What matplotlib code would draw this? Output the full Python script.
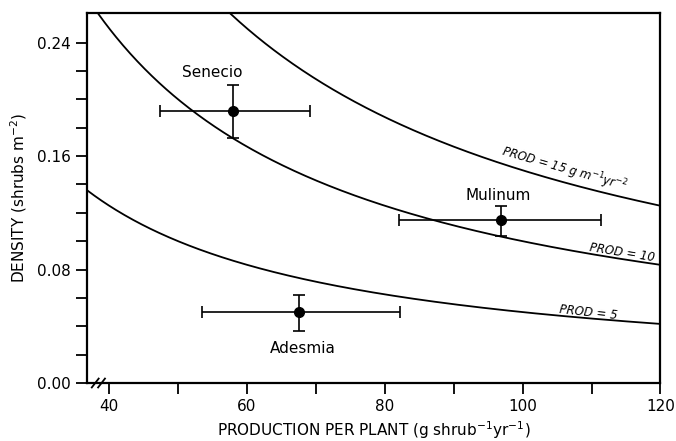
import numpy as np
import matplotlib.pyplot as plt

# datos
especies = ['Senecio', 'Mulinum', 'Adesmia']
produccion = [58.0, 96.8, 67.6]
prod_izq = [47.4, 82.0, 53.5]
prod_der = [69.1, 111.3, 82.2]
densidad = [0.192, 0.115, 0.050]
dens_inf = [0.173, 0.104, 0.037]
dens_sup = [0.210, 0.125, 0.062]

# isolíneas de producción total (PROD = densidad * producción por planta)
niveles_prod = [5, 10, 15]
etiquetas_prod = ['PROD = 5', 'PROD = 10', 'PROD = 15 g m$^{-1}$yr$^{-2}$']

xticks = [40, 60, 80, 100, 120]
yticks = [0.00, 0.08, 0.16, 0.24]

plt.rcParams['font.family'] = ['DejaVu Sans']

fig = plt.figure(figsize=(6.76, 4.41), dpi=100)
ax = fig.add_axes([0.129, 0.1315, 0.848, 0.8383])

x_min, x_max = 36.8, 120
y_min, y_max = 0.0, 0.2607

# curvas
xs = np.linspace(x_min, x_max, 400)
for p in niveles_prod:
    ax.plot(xs, p / xs, color='black', lw=1.3)

# puntos con barras de error
xerr = [np.array(produccion) - np.array(prod_izq), np.array(prod_der) - np.array(produccion)]
yerr = [np.array(densidad) - np.array(dens_inf), np.array(dens_sup) - np.array(densidad)]
ax.errorbar(produccion, densidad, xerr=xerr, yerr=yerr, fmt='o', color='black',
            ms=7, elinewidth=1.2, capsize=4, capthick=1.2)

# nombres de las especies
ax.text(54.9, 0.2193, 'Senecio', ha='center', va='center', fontsize=11)
ax.text(96.5, 0.132, 'Mulinum', ha='center', va='center', fontsize=11)
ax.text(68.1, 0.0240, 'Adesmia', ha='center', va='center', fontsize=11)

# etiquetas de las isolíneas
ax.text(106.0, 0.1505, etiquetas_prod[2], ha='center', va='center', fontsize=8.5,
        style='italic', rotation=-16)
ax.text(114.4, 0.0922, etiquetas_prod[1], ha='center', va='center', fontsize=8.5,
        style='italic', rotation=-9)
ax.text(109.6, 0.0500, etiquetas_prod[0], ha='center', va='center', fontsize=8.5,
        style='italic', rotation=-6)

ax.set_xlim(x_min, x_max)
ax.set_ylim(y_min, y_max)
ax.set_xticks(xticks)
ax.set_xticks([50, 70, 90, 110], minor=True)
ax.set_yticks(yticks)
ax.set_yticks(np.arange(0.02, 0.26, 0.02), minor=True)
ax.set_yticklabels(['%.2f' % v for v in yticks])

ax.tick_params(axis='both', which='both', direction='out', labelsize=11, width=1.3)
ax.tick_params(axis='both', which='major', length=8)
ax.tick_params(axis='both', which='minor', length=8)
for s in ax.spines.values():
    s.set_linewidth(1.6)

ax.set_xlabel('PRODUCTION PER PLANT (g shrub$^{-1}$yr$^{-1}$)', fontsize=11, labelpad=4)
ax.set_ylabel('DENSITY (shrubs m$^{-2}$)', fontsize=11, labelpad=6)

# marcas de corte del eje x
for dx in [0.0, 0.011]:
    ax.plot([0.008 + dx, 0.020 + dx], [-0.012, 0.012], transform=ax.transAxes,
            color='black', lw=1.3, clip_on=False)

plt.savefig('out.png', dpi=100)
plt.close()
